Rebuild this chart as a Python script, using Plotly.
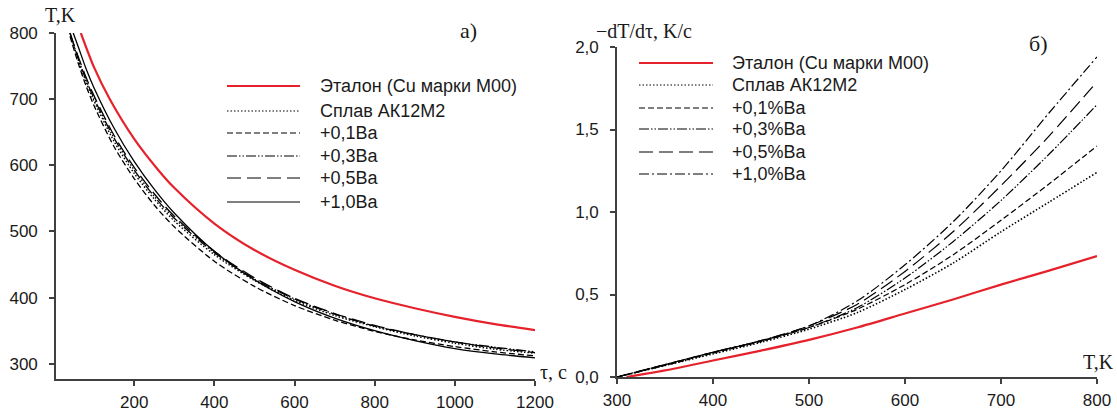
import plotly.graph_objects as go

W, H = 1117, 412

# ---------------- data: panel a) T(tau) ----------------
tau_red = [67, 100, 140, 200, 260, 300, 400, 500, 600, 700, 800, 900, 1000, 1100, 1200]
T_red = [800, 748, 699, 640, 593, 566, 512, 472, 442, 418, 399, 384, 371, 360, 351]

tau_blk = [40, 60, 80, 100, 150, 200, 250, 300, 400, 500, 600, 700, 800, 900, 1000, 1100, 1200]
T_alloy = [800, 760, 726, 697, 636, 588, 549, 516, 465, 426, 396, 373, 356, 342, 331, 322, 316]
T_ba01 = [795, 755, 720, 690, 628, 580, 540, 507, 455, 417, 388, 366, 349, 336, 326, 318, 312]
T_ba03 = [800, 762, 729, 701, 641, 593, 553, 520, 468, 428, 398, 375, 357, 344, 333, 325, 318]
T_ba05 = [800, 765, 733, 705, 645, 597, 557, 523, 470, 430, 399, 376, 358, 344, 333, 324, 317]
tau_ba10 = [48, 60, 80, 100, 150, 200, 250, 300, 400, 500, 600, 700, 800, 900, 1000, 1100, 1200]
T_ba10 = [800, 780, 746, 717, 656, 606, 564, 528, 470, 427, 394, 369, 350, 335, 323, 315, 309]

# ---------------- data: panel б) -dT/dtau(T) ----------------
T_grid = [300, 350, 400, 450, 500, 550, 600, 650, 700, 750, 800]
r_ba10 = [0, 0.075, 0.15, 0.22, 0.31, 0.46, 0.68, 0.94, 1.25, 1.60, 1.94]
r_ba05 = [0, 0.075, 0.15, 0.22, 0.31, 0.44, 0.64, 0.88, 1.16, 1.46, 1.79]
r_ba03 = [0, 0.075, 0.15, 0.22, 0.30, 0.42, 0.60, 0.82, 1.07, 1.35, 1.65]
r_ba01 = [0, 0.07, 0.145, 0.215, 0.30, 0.41, 0.56, 0.74, 0.95, 1.17, 1.40]
r_alloy = [0, 0.07, 0.14, 0.21, 0.29, 0.39, 0.53, 0.69, 0.88, 1.06, 1.24]
T_red_r = [310, 350, 400, 450, 500, 550, 600, 650, 700, 750, 800]
r_red = [0, 0.04, 0.10, 0.16, 0.225, 0.30, 0.385, 0.47, 0.56, 0.645, 0.733]

left_xticks = [200, 400, 600, 800, 1000, 1200]
left_yticks = [300, 400, 500, 600, 700, 800]
right_xticks = [300, 400, 500, 600, 700, 800]
right_yticks = [0, 0.5, 1.0, 1.5, 2.0]
right_yticktext = ["0,0", "0,5", "1,0", "1,5", "2,0"]

legend_a = ["Эталон (Cu марки M00)", "Сплав АК12М2", "+0,1Ba", "+0,3Ba", "+0,5Ba", "+1,0Ba"]
legend_b = ["Эталон (Cu марки M00)", "Сплав АК12М2", "+0,1%Ba", "+0,3%Ba", "+0,5%Ba", "+1,0%Ba"]

RED = "#e5222b"
BLK = "#000000"
DOT = "1.5px,2px"
DASH = "6px,3px"
DDD = "10px,2px,1.5px,2px,1.5px,2px"
LDASH = "14px,6px"
DDOT = "10px,3px,2px,3px"

def px(x):
    return x / W

def py(y):
    return 1 - y / H

fig = go.Figure()

def add(x, y, color, width, dash, xa, ya):
    fig.add_trace(go.Scatter(x=x, y=y, mode="lines", xaxis=xa, yaxis=ya,
                             line=dict(color=color, width=width, dash=dash, shape="spline", smoothing=0.8),
                             showlegend=False, hoverinfo="skip"))

# panel a
add(tau_red, T_red, RED, 2.2, "solid", "x", "y")
add(tau_blk, T_alloy, BLK, 1.4, DOT, "x", "y")
add(tau_blk, T_ba01, BLK, 1.3, DASH, "x", "y")
add(tau_blk, T_ba03, BLK, 1.3, DDD, "x", "y")
add(tau_blk, T_ba05, BLK, 1.3, LDASH, "x", "y")
add(tau_ba10, T_ba10, BLK, 1.3, "solid", "x", "y")

# panel b
add(T_red_r, r_red, RED, 2.2, "solid", "x2", "y2")
add(T_grid, r_alloy, BLK, 1.6, DOT, "x2", "y2")
add(T_grid, r_ba01, BLK, 1.2, DASH, "x2", "y2")
add(T_grid, r_ba03, BLK, 1.2, DDD, "x2", "y2")
add(T_grid, r_ba05, BLK, 1.2, LDASH, "x2", "y2")
add(T_grid, r_ba10, BLK, 1.2, DDOT, "x2", "y2")

AX = "#404040"
TICKF = dict(family="Liberation Sans, Arial", size=17, color="#1a1a1a")
common = dict(showgrid=False, zeroline=False, showline=True, linecolor=AX, linewidth=1.6,
              ticks="outside", ticklen=5, tickwidth=1.5, tickcolor=AX, tickfont=TICKF,
              automargin=False)

fig.update_layout(
    width=W, height=H, margin=dict(l=0, r=0, t=0, b=0),
    paper_bgcolor="white", plot_bgcolor="white",
    xaxis=dict(domain=[px(56), px(535)], range=[5, 1200], tickvals=left_xticks,
               anchor="y", ticklabelstandoff=2, **common),
    yaxis=dict(domain=[py(379), py(33)], range=[277, 800], tickvals=left_yticks,
               anchor="x", ticklabelstandoff=8, **common),
    xaxis2=dict(domain=[px(617), px(1097)], range=[300, 800], tickvals=right_xticks,
                anchor="y2", ticklabelstandoff=2, **common),
    yaxis2=dict(domain=[py(377), py(47)], range=[0, 2.0], tickvals=right_yticks,
                ticktext=right_yticktext, anchor="x2", ticklabelstandoff=8, **common),
)

# legends (drawn manually)
styles = [(RED, 2.2, "solid"), (BLK, 1.2, DOT), (BLK, 1.1, DASH), (BLK, 1.1, DDD), (BLK, 1.1, LDASH)]
styles_a = styles + [(BLK, 1.1, "solid")]
styles_b = styles + [(BLK, 1.1, DDOT)]
rows_a = [86, 111, 133, 156, 178, 202]
rows_b = [63, 85, 108, 129, 152, 174]
LEGF = dict(family="Liberation Sans, Arial", size=18, color="#1a1a1a")

for (c, w, d), yy, txt in zip(styles_a, rows_a, legend_a):
    fig.add_shape(type="line", xref="paper", yref="paper", x0=px(227), x1=px(300), y0=py(yy), y1=py(yy),
                  line=dict(color=c, width=w, dash=d))
    fig.add_annotation(x=px(318), y=py(yy), xref="paper", yref="paper", text=txt, showarrow=False,
                       xanchor="left", yanchor="middle", font=LEGF)
for (c, w, d), yy, txt in zip(styles_b, rows_b, legend_b):
    fig.add_shape(type="line", xref="paper", yref="paper", x0=px(639), x1=px(713), y0=py(yy), y1=py(yy),
                  line=dict(color=c, width=w, dash=d))
    fig.add_annotation(x=px(730), y=py(yy), xref="paper", yref="paper", text=txt, showarrow=False,
                       xanchor="left", yanchor="middle", font=LEGF)

SER = dict(family="Liberation Serif, Times New Roman", size=20, color="#1a1a1a")
SERB = dict(family="Liberation Serif, Times New Roman", size=22, color="#1a1a1a")
labels = [
    ("T,K", 60, 15, SER),
    ("τ, c", 553, 372, SER),
    ("a)", 468, 31, SERB),
    ("−dT/dτ, K/c", 644, 31, SER),
    ("б)", 1038, 44, SERB),
    ("T,K", 1098, 362, SER),
]
for txt, xx, yy, f in labels:
    fig.add_annotation(x=px(xx), y=py(yy), xref="paper", yref="paper", text=txt, showarrow=False,
                       xanchor="center", yanchor="middle", font=f)

fig.write_html("out.html", config={"displayModeBar": False},
               post_script="document.body.style.margin='0px';document.body.style.overflow='hidden';")
